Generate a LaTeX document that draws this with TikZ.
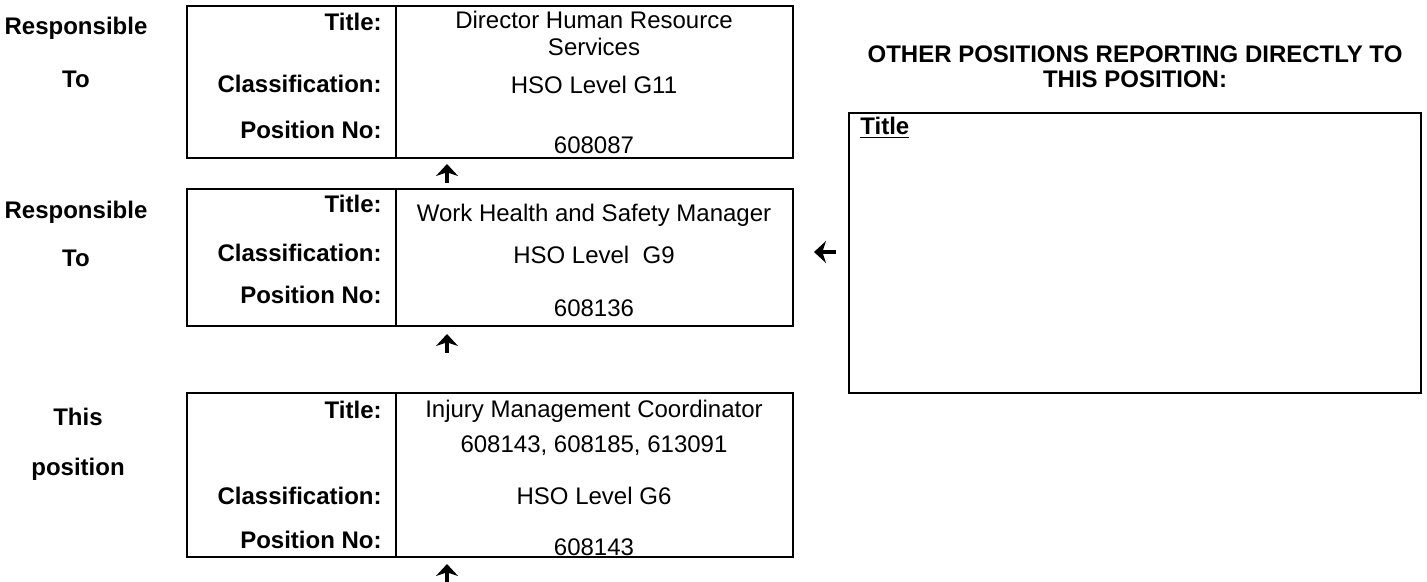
\documentclass[tikz,border=0pt]{standalone}
\usepackage{fontspec}
\setmainfont{Liberation Sans}
\usetikzlibrary{arrows.meta}
\tikzset{
  posbox/.style={draw=black, line width=1.1pt},
  lbl/.style={font=\fontsize{12}{13.5}\selectfont\bfseries, inner sep=0pt},
  val/.style={font=\fontsize{12}{13.5}\selectfont, inner sep=0pt},
  upto/.style={-{Stealth[length=6pt,width=11pt,inset=1.8pt]}, line width=2.4pt},
}
\begin{document}
\begin{tikzpicture}[x=0.5pt,y=-0.5pt]
  \useasboundingbox (0,0) rectangle (1427,582);
%%
  % Node: Director
  \draw [posbox] (187,6) rectangle (793,158);
  \draw [posbox] (396,6) -- (396,158);
  \node [lbl] (dirtitle) at (76,28) {Responsible};
  \node [lbl] (dirto) at (76,79) {To};
  \node [lbl,anchor=east] (dirt) at (382,22) {Title:};
  \node [lbl,anchor=east] (dirc) at (382,84) {Classification:};
  \node [lbl,anchor=east] (dirp) at (382,130) {Position No:};
  \node [val] (dirtv) at (594,20) {Director Human Resource};
  \node [val] (dirtv2) at (594,47) {Services};
  \node [val] (dircv) at (594,85) {HSO Level G11};
  \node [val] (dirpv) at (594,145) {608087};
  % Node: Manager
  \draw [posbox] (187,189) rectangle (793,326);
  \draw [posbox] (396,189) -- (396,326);
  \node [lbl] (mgrtitle) at (76,212) {Responsible};
  \node [lbl] (mgrto) at (76,258) {To};
  \node [lbl,anchor=east] (mgrt) at (382,204) {Title:};
  \node [lbl,anchor=east] (mgrc) at (382,253) {Classification:};
  \node [lbl,anchor=east] (mgrp) at (382,295) {Position No:};
  \node [val] (mgrtv) at (594,215) {Work Health and Safety Manager};
  \node [val] (mgrcv) at (594,255) {HSO Level\ \ G9};
  \node [val] (mgrpv) at (594,308) {608136};
  % Node: Coordinator
  \draw [posbox] (187,393) rectangle (793,557);
  \draw [posbox] (396,393) -- (396,557);
  \node [lbl] (imctitle) at (78,417) {This};
  \node [lbl] (imcpos) at (78,469) {position};
  \node [lbl,anchor=east] (imct) at (382,410) {Title:};
  \node [lbl,anchor=east] (imcc) at (382,496) {Classification:};
  \node [lbl,anchor=east] (imcp) at (382,540) {Position No:};
  \node [val] (imctv) at (594,411) {Injury Management Coordinator};
  \node [val] (imcnos) at (594,446) {608143, 608185, 613091};
  \node [val] (imccv) at (594,496) {HSO Level G6};
  \node [val] (imcpv) at (594,547) {608143};
  % Node: Others
  \node [lbl] (othhead) at (1135,54) {OTHER POSITIONS REPORTING DIRECTLY TO};
  \node [lbl] (othhead2) at (1135,79) {THIS POSITION:};
  \draw [posbox] (849,113) rectangle (1421,393);
  \node [lbl,anchor=west] (othtitle) at (860,128) {\underline{Title}};
%%
  \coordinate (up1s) at (447,183); \coordinate (up1e) at (447,164);
  \coordinate (up2s) at (447,353); \coordinate (up2e) at (447,334);
  \coordinate (up3s) at (447,582); \coordinate (up3e) at (447,564);
  \coordinate (lfs) at (836,252);  \coordinate (lfe) at (814,252);
  % Edge: Manager -> Director
  \draw [upto] (up1s) -- (up1e);
  % Edge: Coordinator -> Manager
  \draw [upto] (up2s) -- (up2e);
  % Edge: below -> Coordinator
  \draw [upto] (up3s) -- (up3e);
  % Edge: Others -> Manager
  \draw [upto] (lfs) -- (lfe);
%
\end{tikzpicture}
\end{document}
